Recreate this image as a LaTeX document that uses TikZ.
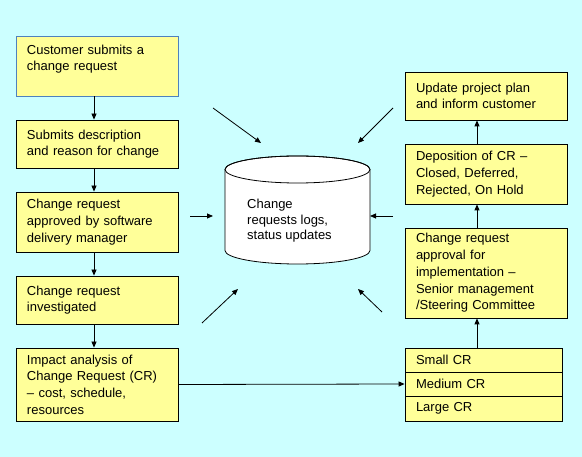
\documentclass[tikz,border=0pt]{standalone}
\usepackage{fontspec}
\setmainfont{Liberation Sans}
\usetikzlibrary{arrows.meta}
\definecolor{crcyan}{RGB}{204,255,255}
\definecolor{cryellow}{RGB}{255,255,153}
\definecolor{crblue}{RGB}{79,129,189}

\begin{document}
\begin{tikzpicture}[x=1pt,y=-1pt,>={Triangle[length=6pt,width=5pt]}]

%
% Styles
%
\tikzstyle{stage} = [rectangle,draw=black,fill=cryellow,line width=0.8pt,minimum width=162pt,text width=140pt,inner xsep=11pt,inner ysep=0pt,align=left,font=\fontsize{13}{16.7}\selectfont]
\tikzstyle{crrow} = [stage,minimum width=157pt,text width=135pt]
\tikzstyle{flow} = [->,line width=0.8pt]

\fill[crcyan] (0,0) rectangle (582,457);
\useasboundingbox (0,0) rectangle (582,457);

% left column
\node[stage,draw=crblue,minimum height=60pt] (submit)   at ( 97, 66)  {Customer submits a\\change request\\\mbox{}};
\node[stage,minimum height=48pt] (describe) at ( 97,144)  {Submits description\\and reason for change};
\node[stage,minimum height=60pt] (approve)  at ( 97,222)  {Change request\\approved by software\\delivery manager};
\node[stage,minimum height=48pt] (investig) at ( 97,300)  {Change request\\investigated};
\node[stage,minimum height=73pt] (impact)   at ( 97,384.5){Impact analysis of\\Change Request (CR)\\-- cost, schedule,\\resources};

% right column
\node[stage,minimum height=48pt] (update)   at (486, 96)  {Update project plan\\and inform customer};
\node[stage,minimum height=60pt] (deposit)  at (486,174)  {Deposition of CR --\\Closed, Deferred,\\Rejected, On Hold};
\node[stage,minimum height=90pt] (implem)   at (486,273)  {Change request\\approval for\\implementation --\\Senior management\\/Steering Committee};
\node[crrow,minimum height=24pt] (small)    at (483.5,360)  {Small CR};
\node[crrow,minimum height=24pt] (medium)   at (483.5,384)  {Medium CR};
\node[crrow,minimum height=25pt] (large)    at (483.5,408.5){Large CR};

% store
\draw[line width=0.8pt,fill=white] (225,169.5) -- (225,250.5)
  arc[start angle=180,end angle=0,x radius=72.5,y radius=13.5] -- (370,169.5)
  arc[start angle=0,end angle=-180,x radius=72.5,y radius=13.5] -- cycle;
\draw[line width=0.8pt] (297.5,169.5) ellipse [x radius=72.5,y radius=13.5];
\node[anchor=west,inner sep=0pt,align=left,font=\fontsize{13}{15.5}\selectfont] (logs) at (247,221) {Change\\requests logs,\\status updates};

\coordinate (tlfrom) at (213,108);  \coordinate (tlto) at (261,143);
\coordinate (trfrom) at (393,108);  \coordinate (trto) at (358,143);
\coordinate (lfrom)  at (190,216);  \coordinate (lto)  at (213,216);
\coordinate (rfrom)  at (393,216);  \coordinate (rto)  at (370,216);
\coordinate (blfrom) at (202,323);  \coordinate (blto) at (238,289);
\coordinate (brfrom) at (382,312);  \coordinate (brto) at (358,289);

\draw[flow] ([xshift=-3pt]submit.south)   -- ([xshift=-3pt]describe.north);
\draw[flow] ([xshift=-3pt]describe.south) -- ([xshift=-3pt]approve.north);
\draw[flow] ([xshift=-3pt]approve.south)  -- ([xshift=-3pt]investig.north);
\draw[flow] ([xshift=-3pt]investig.south) -- ([xshift=-3pt]impact.north);
\draw[flow] (impact.east) -- (medium.west);
\draw[flow] ([xshift=-6.5pt]small.north) -- ([xshift=-9pt]implem.south);
\draw[flow] ([xshift=-9pt]implem.north)  -- ([xshift=-9pt]deposit.south);
\draw[flow] ([xshift=-9pt]deposit.north) -- ([xshift=-9pt]update.south);

\draw[flow] (tlfrom) -- (tlto);
\draw[flow] (trfrom) -- (trto);
\draw[flow] (lfrom) -- (lto);
\draw[flow] (rfrom) -- (rto);
\draw[flow] (blfrom) -- (blto);
\draw[flow] (brfrom) -- (brto);

\end{tikzpicture}
\end{document}
